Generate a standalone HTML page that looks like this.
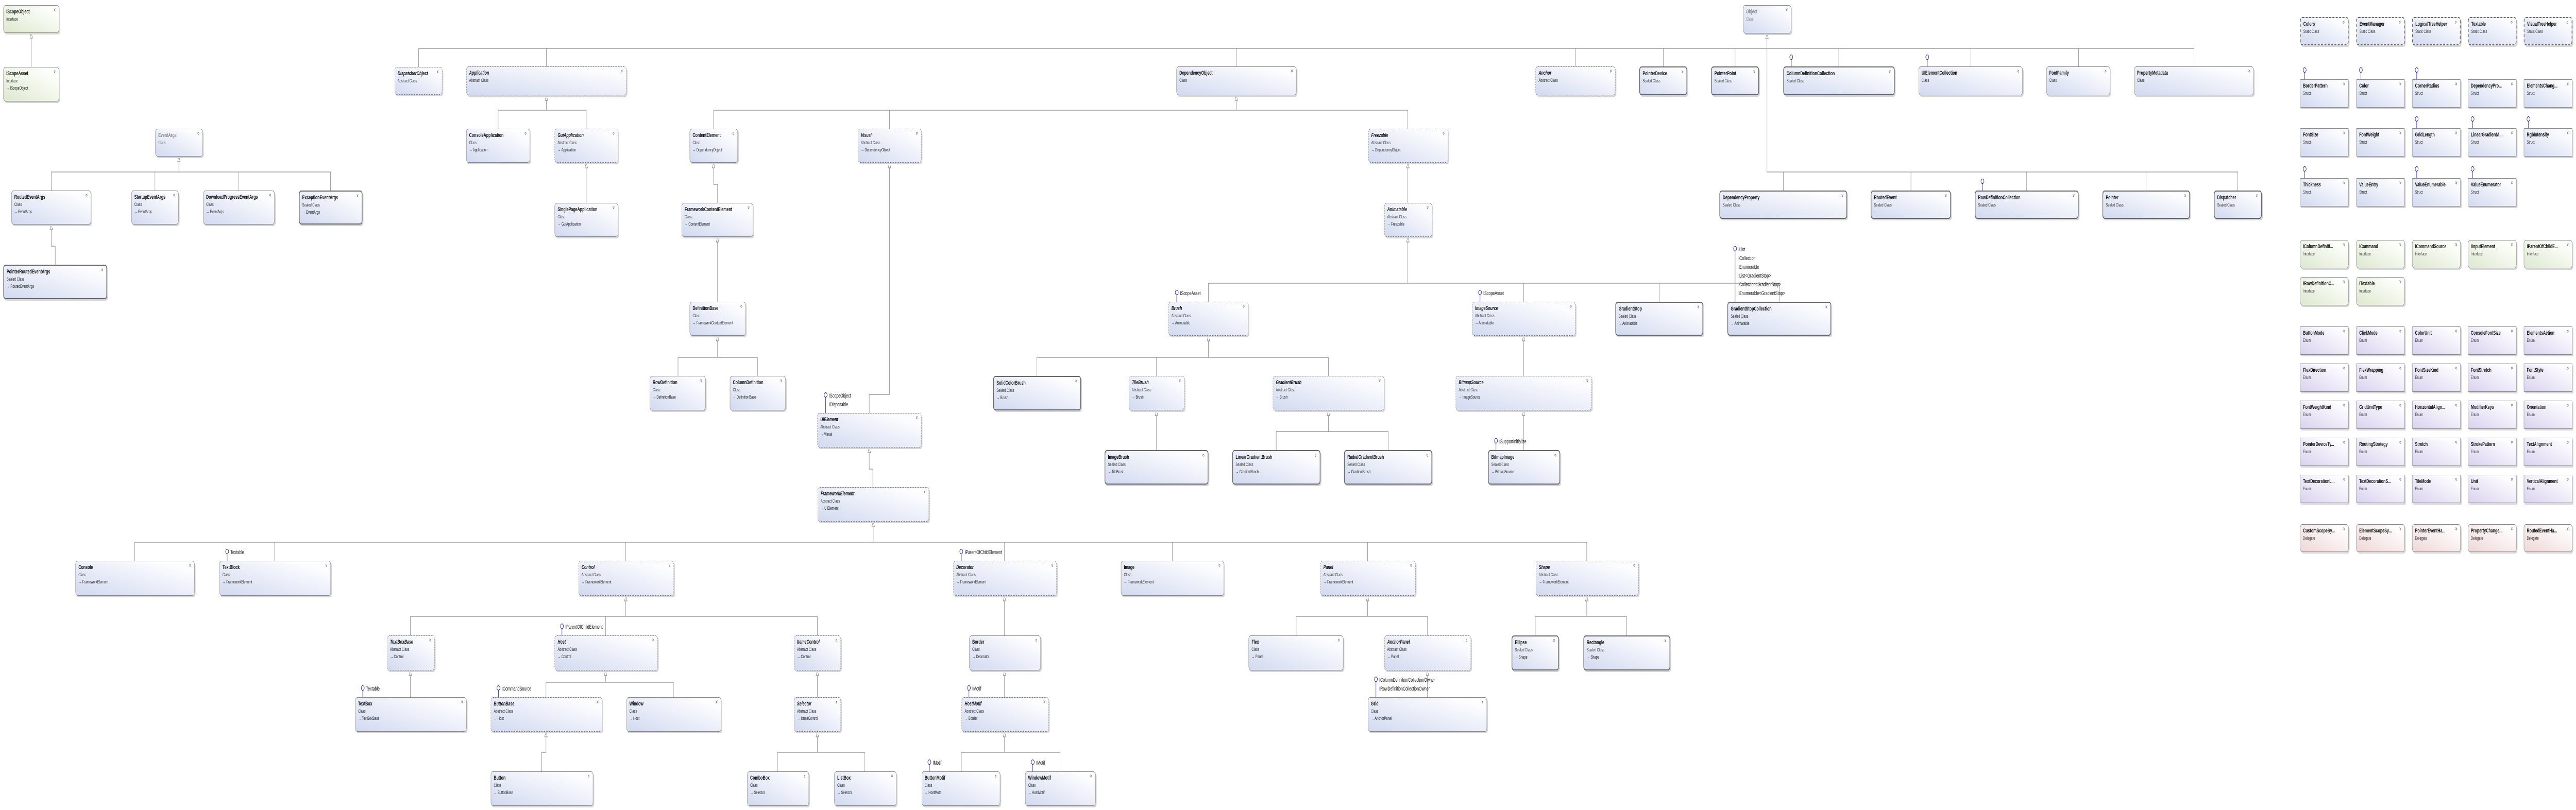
<!DOCTYPE html>
<html><head><meta charset="utf-8"><style>
html,body{margin:0;padding:0;overflow:hidden}
#pg{width:7747px;height:1573px;background:#fff;position:absolute;left:0;top:0;overflow:hidden;font-family:"Liberation Sans",sans-serif;transform-origin:0 0}
.b{position:absolute;box-sizing:border-box;border:1px solid #8a8a8a;border-radius:7px;background:linear-gradient(to top right,#d2daf0,#fdfdff 85%);box-shadow:3px 3px 0 #d6d6d6;padding:5px 8px;overflow:hidden;white-space:nowrap}
.b b{display:block;font-size:11px;font-weight:bold;color:#111;line-height:15px}
.b i{display:block;font-style:normal;font-size:9px;color:#333;line-height:13px}
.b u{display:block;text-decoration:none;font-size:9px;color:#222;line-height:14px}
.b::after{content:"»";position:absolute;right:8px;top:1px;transform:rotate(90deg);font-size:12px;color:#555}
.a{border:1px dashed #777}.a b{font-style:italic}
.s{border:2px solid #666}
.st{border:2px dashed #666}
.sr{border-radius:2px}
.in{background:linear-gradient(to top right,#dde8cf,#fdfffb 85%)}
.en{background:linear-gradient(to top right,#d9d3ef,#fdfcff 85%);border-radius:2px}
.d{background:linear-gradient(to top right,#efd7d7,#fffdfd 85%)}
.g b,.g i{color:#888}
svg{position:absolute;left:0;top:0}
#rg{position:absolute;left:-4px;top:0;width:0;height:0}
</style></head><body>
<div id="pg">
<svg width="7747" height="1573">
<path fill="none" stroke="#8a8a8a" stroke-width="1.2" d="M94 64V130
M538 304V334 M154 334H994 M154 334V370 M466 334V370 M718 334V370 M994 334V370
M154 436V478H166V514
M1259 94H6598 M5314 65V334 M1259 94V130 M1643 94V129 M3718 94V129 M4738 94V129 M5002 94V129 M5218 94V129 M5530 94V129 M5927 94V129 M6251 94V129 M6598 94V129
M5314 334H6730 M5363 334V370 M5747 334V370 M6095 334V370 M6454 334V370 M6730 334V370
M1643 185V214 M1498 214H1763 M1498 214V250 M1763 214V250
M1763 316V394
M3718 185V214 M2146 214H4234 M2146 214V250 M2675 214V250 M4234 214V250
M2146 316V358H2158V394
M2158 460V586
M2158 652V694 M2039 694H2278 M2039 694V730 M2278 694V730
M2675 316V766H2614V802
M2614 869V911H2625V946
M2626 1013V1053 M405 1053H4772 M405 1053V1089 M826 1053V1089 M1882 1053V1089 M3021 1053V1089 M3526 1053V1089 M4113 1053V1089 M4772 1053V1089
M1882 1157V1197 M1234 1197H2458 M1234 1197V1234 M1821 1197V1234 M2458 1197V1234
M1234 1302V1354
M1821 1302V1325 M1642 1325H2025 M1642 1325V1354 M2025 1325V1354
M1642 1421V1461H1629V1498
M2458 1302V1354
M2458 1421V1461 M2338 1461H2601 M2338 1461V1498 M2601 1461V1498
M3021 1157V1234 M3021 1302V1354
M3021 1421V1461 M2891 1461H3188 M2891 1461V1498 M3188 1461V1498
M4113 1157V1197 M3898 1197H4293 M3898 1197V1234 M4293 1197V1234
M4293 1302V1354
M4772 1157V1197 M4617 1197H4892 M4617 1197V1234 M4892 1197V1234
M4234 316V394
M4234 460V550 M3634 550H5351 M3634 550V586 M4582 550V586 M4990 550V586 M5351 550V586
M3634 652V694 M3118 694H3995 M3118 694V730 M3478 694V730 M3995 694V730
M3478 797V874
M3995 797V838 M3838 838H4175 M3838 838V874 M4175 838V874
M4582 652V730 M4582 797V874"/>
<g fill="#fff" stroke="#777" stroke-width="1">
<polygon points="94,64 90,74 98,74"/><polygon points="538,304 534,314 542,314"/><polygon points="154,436 150,446 158,446"/><polygon points="5314,65 5310,75 5318,75"/><polygon points="1643,185 1639,195 1647,195"/><polygon points="1763,316 1759,326 1767,326"/><polygon points="3718,185 3714,195 3722,195"/><polygon points="2146,316 2142,326 2150,326"/><polygon points="2158,460 2154,470 2162,470"/><polygon points="2158,652 2154,662 2162,662"/><polygon points="2675,316 2671,326 2679,326"/><polygon points="2614,869 2610,879 2618,879"/><polygon points="2626,1013 2622,1023 2630,1023"/><polygon points="1882,1157 1878,1167 1886,1167"/><polygon points="1234,1302 1230,1312 1238,1312"/><polygon points="1821,1302 1817,1312 1825,1312"/><polygon points="1642,1421 1638,1431 1646,1431"/><polygon points="2458,1302 2454,1312 2462,1312"/><polygon points="2458,1421 2454,1431 2462,1431"/><polygon points="3021,1157 3017,1167 3025,1167"/><polygon points="3021,1302 3017,1312 3025,1312"/><polygon points="3021,1421 3017,1431 3025,1431"/><polygon points="4113,1157 4109,1167 4117,1167"/><polygon points="4293,1302 4289,1312 4297,1312"/><polygon points="4772,1157 4768,1167 4776,1167"/><polygon points="4234,316 4230,326 4238,326"/><polygon points="4234,460 4230,470 4238,470"/><polygon points="3634,652 3630,662 3638,662"/><polygon points="3478,797 3474,807 3482,807"/><polygon points="3995,797 3991,807 3999,807"/><polygon points="4582,652 4578,662 4586,662"/><polygon points="4582,797 4578,807 4586,807"/>
</g>
<g stroke="#2b2bbd" stroke-width="1.3" fill="#fff">
<path d="M2483 802V771 M3539 586V572 M4451 586V572 M4499 874V860 M5218 586V487 M5387 129V115 M5796 129V115 M5962 370V356 M683 1089V1075 M1690 1234V1220 M1091 1354V1340 M1499 1354V1340 M2891 1089V1075 M2914 1354V1340 M4138 1354V1323 M2795 1498V1484 M3106 1498V1484 M6931 154V140 M7100 154V140 M7268 154V140 M7268 249V235 M7436 249V235 M7604 249V235 M6931 346V332 M7268 346V332 M7436 346V332"/>
<circle cx="2483" cy="767" r="4.5"/><circle cx="3539" cy="568" r="4.5"/><circle cx="4451" cy="568" r="4.5"/><circle cx="4499" cy="856" r="4.5"/><circle cx="5218" cy="483" r="4.5"/><circle cx="5387" cy="111" r="4.5"/><circle cx="5796" cy="111" r="4.5"/><circle cx="5962" cy="352" r="4.5"/><circle cx="683" cy="1071" r="4.5"/><circle cx="1690" cy="1216" r="4.5"/><circle cx="1091" cy="1336" r="4.5"/><circle cx="1499" cy="1336" r="4.5"/><circle cx="2891" cy="1071" r="4.5"/><circle cx="2914" cy="1336" r="4.5"/><circle cx="4138" cy="1319" r="4.5"/><circle cx="2795" cy="1480" r="4.5"/><circle cx="3106" cy="1480" r="4.5"/><circle cx="6931" cy="136" r="4.5"/><circle cx="7100" cy="136" r="4.5"/><circle cx="7268" cy="136" r="4.5"/><circle cx="7268" cy="231" r="4.5"/><circle cx="7436" cy="231" r="4.5"/><circle cx="7604" cy="231" r="4.5"/><circle cx="6931" cy="328" r="4.5"/><circle cx="7268" cy="328" r="4.5"/><circle cx="7436" cy="328" r="4.5"/>
</g>
<g font-family="Liberation Sans, sans-serif" font-size="11" fill="#111">
<text x="2493" y="772">IScopeObject</text><text x="2493" y="789">IDisposable</text>
<text x="3549" y="573">IScopeAsset</text><text x="4461" y="573">IScopeAsset</text>
<text x="4509" y="861">ISupportInitialize</text>
<text x="5228" y="488">IList</text><text x="5228" y="505">ICollection</text><text x="5228" y="522">IEnumerable</text><text x="5228" y="539">IList&lt;GradientStop&gt;</text><text x="5228" y="556">ICollection&lt;GradientStop&gt;</text><text x="5228" y="573">IEnumerable&lt;GradientStop&gt;</text>
<text x="693" y="1076">Textable</text><text x="1700" y="1221">IParentOfChildElement</text><text x="1101" y="1341">Textable</text><text x="1509" y="1341">ICommandSource</text>
<text x="2901" y="1076">IParentOfChildElement</text><text x="2924" y="1341">IMotif</text>
<text x="4148" y="1324">IColumnDefinitionCollectionOwner</text><text x="4148" y="1341">IRowDefinitionCollectionOwner</text>
<text x="2805" y="1485">IMotif</text><text x="3116" y="1485">IMotif</text>
</g>
</svg>

<div class="b in" style="left:10px;top:10px;width:168px;height:54px"><b>IScopeObject</b><i>Interface</i></div>
<div class="b in" style="left:10px;top:130px;width:168px;height:67px"><b>IScopeAsset</b><i>Interface</i><u>→ IScopeObject</u></div>
<div class="b a" style="left:1187px;top:130px;width:143px;height:54px"><b>DispatcherObject</b><i>Abstract Class</i></div>
<div class="b g" style="left:467px;top:250px;width:143px;height:54px"><b>EventArgs</b><i>Class</i></div>
<div class="b" style="left:34px;top:370px;width:240px;height:66px"><b>RoutedEventArgs</b><i>Class</i><u>→ EventArgs</u></div>
<div class="b" style="left:395px;top:370px;width:142px;height:66px"><b>StartupEventArgs</b><i>Class</i><u>→ EventArgs</u></div>
<div class="b" style="left:611px;top:370px;width:215px;height:66px"><b>DownloadProgressEventArgs</b><i>Class</i><u>→ EventArgs</u></div>
<div class="b s" style="left:899px;top:370px;width:191px;height:66px"><b>ExceptionEventArgs</b><i>Sealed Class</i><u>→ EventArgs</u></div>
<div class="b s" style="left:10px;top:514px;width:312px;height:67px"><b>PointerRoutedEventArgs</b><i>Sealed Class</i><u>→ RoutedEventArgs</u></div>
<div class="b a" style="left:1402px;top:129px;width:482px;height:56px"><b>Application</b><i>Abstract Class</i></div>
<div class="b" style="left:1402px;top:250px;width:192px;height:66px"><b>ConsoleApplication</b><i>Class</i><u>→ Application</u></div>
<div class="b a" style="left:1668px;top:250px;width:191px;height:66px"><b>GuiApplication</b><i>Abstract Class</i><u>→ Application</u></div>
<div class="b" style="left:1668px;top:394px;width:191px;height:66px"><b>SinglePageApplication</b><i>Class</i><u>→ GuiApplication</u></div>
<div class="b" style="left:3538px;top:129px;width:361px;height:56px"><b>DependencyObject</b><i>Class</i></div>
<div class="b" style="left:2074px;top:250px;width:145px;height:66px"><b>ContentElement</b><i>Class</i><u>→ DependencyObject</u></div>
<div class="b" style="left:2050px;top:394px;width:215px;height:66px"><b>FrameworkContentElement</b><i>Class</i><u>→ ContentElement</u></div>
<div class="b" style="left:2074px;top:586px;width:169px;height:66px"><b>DefinitionBase</b><i>Class</i><u>→ FrameworkContentElement</u></div>
<div class="b" style="left:1954px;top:730px;width:168px;height:67px"><b>RowDefinition</b><i>Class</i><u>→ DefinitionBase</u></div>
<div class="b" style="left:2195px;top:730px;width:168px;height:67px"><b>ColumnDefinition</b><i>Class</i><u>→ DefinitionBase</u></div>
<div class="b a" style="left:2580px;top:250px;width:191px;height:66px"><b>Visual</b><i>Abstract Class</i><u>→ DependencyObject</u></div>
<div class="b a" style="left:2458px;top:802px;width:313px;height:67px"><b>UIElement</b><i>Abstract Class</i><u>→ Visual</u></div>
<div class="b a" style="left:2459px;top:946px;width:335px;height:67px"><b>FrameworkElement</b><i>Abstract Class</i><u>→ UIElement</u></div>
<div class="b a" style="left:4618px;top:129px;width:240px;height:56px"><b>Anchor</b><i>Abstract Class</i></div>
<div class="b a" style="left:4115px;top:250px;width:240px;height:66px"><b>Freezable</b><i>Abstract Class</i><u>→ DependencyObject</u></div>
<div class="b a" style="left:4163px;top:394px;width:144px;height:66px"><b>Animatable</b><i>Abstract Class</i><u>→ Freezable</u></div>
<div class="b a" style="left:3514px;top:586px;width:240px;height:66px"><b>Brush</b><i>Abstract Class</i><u>→ Animatable</u></div>
<div class="b a" style="left:4427px;top:586px;width:311px;height:66px"><b>ImageSource</b><i>Abstract Class</i><u>→ Animatable</u></div>
<div class="b s" style="left:2987px;top:730px;width:264px;height:67px"><b>SolidColorBrush</b><i>Sealed Class</i><u>→ Brush</u></div>
<div class="b a" style="left:3395px;top:730px;width:167px;height:67px"><b>TileBrush</b><i>Abstract Class</i><u>→ Brush</u></div>
<div class="b a" style="left:3828px;top:730px;width:335px;height:67px"><b>GradientBrush</b><i>Abstract Class</i><u>→ Brush</u></div>
<div class="b a" style="left:4378px;top:730px;width:409px;height:67px"><b>BitmapSource</b><i>Abstract Class</i><u>→ ImageSource</u></div>
<div class="b s" style="left:3322px;top:874px;width:312px;height:67px"><b>ImageBrush</b><i>Sealed Class</i><u>→ TileBrush</u></div>
<div class="b s" style="left:3706px;top:874px;width:265px;height:67px"><b>LinearGradientBrush</b><i>Sealed Class</i><u>→ GradientBrush</u></div>
<div class="b s" style="left:4042px;top:874px;width:265px;height:67px"><b>RadialGradientBrush</b><i>Sealed Class</i><u>→ GradientBrush</u></div>
<div class="b s" style="left:4475px;top:874px;width:217px;height:67px"><b>BitmapImage</b><i>Sealed Class</i><u>→ BitmapSource</u></div>
<div class="b s" style="left:4858px;top:586px;width:264px;height:66px"><b>GradientStop</b><i>Sealed Class</i><u>→ Animatable</u></div>
<div class="b s" style="left:5195px;top:586px;width:312px;height:66px"><b>GradientStopCollection</b><i>Sealed Class</i><u>→ Animatable</u></div>
<div class="b g" style="left:5242px;top:10px;width:145px;height:55px"><b>Object</b><i>Class</i></div>
<div class="b s" style="left:4930px;top:129px;width:144px;height:56px"><b>PointerDevice</b><i>Sealed Class</i></div>
<div class="b s" style="left:5146px;top:129px;width:144px;height:56px"><b>PointerPoint</b><i>Sealed Class</i></div>
<div class="b s" style="left:5363px;top:129px;width:335px;height:56px"><b>ColumnDefinitionCollection</b><i>Sealed Class</i></div>
<div class="b" style="left:5770px;top:129px;width:313px;height:56px"><b>UIElementCollection</b><i>Class</i></div>
<div class="b" style="left:6154px;top:129px;width:192px;height:56px"><b>FontFamily</b><i>Class</i></div>
<div class="b" style="left:6418px;top:129px;width:360px;height:56px"><b>PropertyMetadata</b><i>Class</i></div>
<div class="b s" style="left:5171px;top:370px;width:384px;height:55px"><b>DependencyProperty</b><i>Sealed Class</i></div>
<div class="b s" style="left:5626px;top:370px;width:241px;height:55px"><b>RoutedEvent</b><i>Sealed Class</i></div>
<div class="b s" style="left:5939px;top:370px;width:312px;height:55px"><b>RowDefinitionCollection</b><i>Sealed Class</i></div>
<div class="b s" style="left:6323px;top:370px;width:263px;height:55px"><b>Pointer</b><i>Sealed Class</i></div>
<div class="b s" style="left:6658px;top:370px;width:144px;height:55px"><b>Dispatcher</b><i>Sealed Class</i></div>
<div class="b" style="left:227px;top:1089px;width:358px;height:68px"><b>Console</b><i>Class</i><u>→ FrameworkElement</u></div>
<div class="b" style="left:660px;top:1089px;width:335px;height:68px"><b>TextBlock</b><i>Class</i><u>→ FrameworkElement</u></div>
<div class="b a" style="left:1740px;top:1089px;width:287px;height:68px"><b>Control</b><i>Abstract Class</i><u>→ FrameworkElement</u></div>
<div class="b a" style="left:2867px;top:1089px;width:311px;height:68px"><b>Decorator</b><i>Abstract Class</i><u>→ FrameworkElement</u></div>
<div class="b" style="left:3371px;top:1089px;width:310px;height:68px"><b>Image</b><i>Class</i><u>→ FrameworkElement</u></div>
<div class="b a" style="left:3971px;top:1089px;width:286px;height:68px"><b>Panel</b><i>Abstract Class</i><u>→ FrameworkElement</u></div>
<div class="b a" style="left:4619px;top:1089px;width:309px;height:68px"><b>Shape</b><i>Abstract Class</i><u>→ FrameworkElement</u></div>
<div class="b a" style="left:1164px;top:1234px;width:143px;height:68px"><b>TextBoxBase</b><i>Abstract Class</i><u>→ Control</u></div>
<div class="b a" style="left:1668px;top:1234px;width:310px;height:68px"><b>Host</b><i>Abstract Class</i><u>→ Control</u></div>
<div class="b a" style="left:2388px;top:1234px;width:141px;height:68px"><b>ItemsControl</b><i>Abstract Class</i><u>→ Control</u></div>
<div class="b" style="left:2915px;top:1234px;width:215px;height:68px"><b>Border</b><i>Class</i><u>→ Decorator</u></div>
<div class="b" style="left:3755px;top:1234px;width:285px;height:68px"><b>Flex</b><i>Class</i><u>→ Panel</u></div>
<div class="b a" style="left:4163px;top:1234px;width:261px;height:68px"><b>AnchorPanel</b><i>Abstract Class</i><u>→ Panel</u></div>
<div class="b s" style="left:4546px;top:1234px;width:142px;height:68px"><b>Ellipse</b><i>Sealed Class</i><u>→ Shape</u></div>
<div class="b s" style="left:4762px;top:1234px;width:261px;height:68px"><b>Rectangle</b><i>Sealed Class</i><u>→ Shape</u></div>
<div class="b" style="left:1068px;top:1354px;width:335px;height:67px"><b>TextBox</b><i>Class</i><u>→ TextBoxBase</u></div>
<div class="b a" style="left:1476px;top:1354px;width:335px;height:67px"><b>ButtonBase</b><i>Abstract Class</i><u>→ Host</u></div>
<div class="b" style="left:1884px;top:1354px;width:285px;height:67px"><b>Window</b><i>Class</i><u>→ Host</u></div>
<div class="b a" style="left:2388px;top:1354px;width:141px;height:67px"><b>Selector</b><i>Abstract Class</i><u>→ ItemsControl</u></div>
<div class="b a" style="left:2892px;top:1354px;width:262px;height:67px"><b>HostMotif</b><i>Abstract Class</i><u>→ Border</u></div>
<div class="b" style="left:4114px;top:1354px;width:358px;height:67px"><b>Grid</b><i>Class</i><u>→ AnchorPanel</u></div>
<div class="b" style="left:1476px;top:1498px;width:308px;height:67px"><b>Button</b><i>Class</i><u>→ ButtonBase</u></div>
<div class="b" style="left:2247px;top:1498px;width:186px;height:67px"><b>ComboBox</b><i>Class</i><u>→ Selector</u></div>
<div class="b" style="left:2509px;top:1498px;width:187px;height:67px"><b>ListBox</b><i>Class</i><u>→ Selector</u></div>
<div class="b" style="left:2772px;top:1498px;width:236px;height:67px"><b>ButtonMotif</b><i>Class</i><u>→ HostMotif</u></div>
<div class="b" style="left:3083px;top:1498px;width:212px;height:67px"><b>WindowMotif</b><i>Class</i><u>→ HostMotif</u></div>

<div id="rg">
<div class="b st" style="left:6921px;top:33px;width:146px;height:55px"><b>Colors</b><i>Static Class</i></div>
<div class="b st" style="left:7090px;top:33px;width:146px;height:55px"><b>EventManager</b><i>Static Class</i></div>
<div class="b st" style="left:7258px;top:33px;width:146px;height:55px"><b>LogicalTreeHelper</b><i>Static Class</i></div>
<div class="b st" style="left:7426px;top:33px;width:146px;height:55px"><b>Textable</b><i>Static Class</i></div>
<div class="b st" style="left:7594px;top:33px;width:146px;height:55px"><b>VisualTreeHelper</b><i>Static Class</i></div>
<div class="b sr" style="left:6921px;top:154px;width:146px;height:55px"><b>BorderPattern</b><i>Struct</i></div>
<div class="b sr" style="left:7090px;top:154px;width:146px;height:55px"><b>Color</b><i>Struct</i></div>
<div class="b sr" style="left:7258px;top:154px;width:146px;height:55px"><b>CornerRadius</b><i>Struct</i></div>
<div class="b sr" style="left:7426px;top:154px;width:146px;height:55px"><b>DependencyPro...</b><i>Struct</i></div>
<div class="b sr" style="left:7594px;top:154px;width:146px;height:55px"><b>ElementsChang...</b><i>Struct</i></div>
<div class="b sr" style="left:6921px;top:249px;width:146px;height:55px"><b>FontSize</b><i>Struct</i></div>
<div class="b sr" style="left:7090px;top:249px;width:146px;height:55px"><b>FontWeight</b><i>Struct</i></div>
<div class="b sr" style="left:7258px;top:249px;width:146px;height:55px"><b>GridLength</b><i>Struct</i></div>
<div class="b sr" style="left:7426px;top:249px;width:146px;height:55px"><b>LinearGradientA...</b><i>Struct</i></div>
<div class="b sr" style="left:7594px;top:249px;width:146px;height:55px"><b>RgbIntensity</b><i>Struct</i></div>
<div class="b sr" style="left:6921px;top:346px;width:146px;height:55px"><b>Thickness</b><i>Struct</i></div>
<div class="b sr" style="left:7090px;top:346px;width:146px;height:55px"><b>ValueEntry</b><i>Struct</i></div>
<div class="b sr" style="left:7258px;top:346px;width:146px;height:55px"><b>ValueEnumerable</b><i>Struct</i></div>
<div class="b sr" style="left:7426px;top:346px;width:146px;height:55px"><b>ValueEnumerator</b><i>Struct</i></div>
<div class="b in" style="left:6921px;top:466px;width:146px;height:55px"><b>IColumnDefiniti...</b><i>Interface</i></div>
<div class="b in" style="left:7090px;top:466px;width:146px;height:55px"><b>ICommand</b><i>Interface</i></div>
<div class="b in" style="left:7258px;top:466px;width:146px;height:55px"><b>ICommandSource</b><i>Interface</i></div>
<div class="b in" style="left:7426px;top:466px;width:146px;height:55px"><b>IInputElement</b><i>Interface</i></div>
<div class="b in" style="left:7594px;top:466px;width:146px;height:55px"><b>IParentOfChildE...</b><i>Interface</i></div>
<div class="b in" style="left:6921px;top:538px;width:146px;height:55px"><b>IRowDefinitionC...</b><i>Interface</i></div>
<div class="b in" style="left:7090px;top:538px;width:146px;height:55px"><b>ITextable</b><i>Interface</i></div>
<div class="b en" style="left:6921px;top:634px;width:146px;height:55px"><b>ButtonMode</b><i>Enum</i></div>
<div class="b en" style="left:7090px;top:634px;width:146px;height:55px"><b>ClickMode</b><i>Enum</i></div>
<div class="b en" style="left:7258px;top:634px;width:146px;height:55px"><b>ColorUnit</b><i>Enum</i></div>
<div class="b en" style="left:7426px;top:634px;width:146px;height:55px"><b>ConsoleFontSize</b><i>Enum</i></div>
<div class="b en" style="left:7594px;top:634px;width:146px;height:55px"><b>ElementsAction</b><i>Enum</i></div>
<div class="b en" style="left:6921px;top:706px;width:146px;height:55px"><b>FlexDirection</b><i>Enum</i></div>
<div class="b en" style="left:7090px;top:706px;width:146px;height:55px"><b>FlexWrapping</b><i>Enum</i></div>
<div class="b en" style="left:7258px;top:706px;width:146px;height:55px"><b>FontSizeKind</b><i>Enum</i></div>
<div class="b en" style="left:7426px;top:706px;width:146px;height:55px"><b>FontStretch</b><i>Enum</i></div>
<div class="b en" style="left:7594px;top:706px;width:146px;height:55px"><b>FontStyle</b><i>Enum</i></div>
<div class="b en" style="left:6921px;top:778px;width:146px;height:55px"><b>FontWeightKind</b><i>Enum</i></div>
<div class="b en" style="left:7090px;top:778px;width:146px;height:55px"><b>GridUnitType</b><i>Enum</i></div>
<div class="b en" style="left:7258px;top:778px;width:146px;height:55px"><b>HorizontalAlign...</b><i>Enum</i></div>
<div class="b en" style="left:7426px;top:778px;width:146px;height:55px"><b>ModifierKeys</b><i>Enum</i></div>
<div class="b en" style="left:7594px;top:778px;width:146px;height:55px"><b>Orientation</b><i>Enum</i></div>
<div class="b en" style="left:6921px;top:850px;width:146px;height:55px"><b>PointerDeviceTy...</b><i>Enum</i></div>
<div class="b en" style="left:7090px;top:850px;width:146px;height:55px"><b>RoutingStrategy</b><i>Enum</i></div>
<div class="b en" style="left:7258px;top:850px;width:146px;height:55px"><b>Stretch</b><i>Enum</i></div>
<div class="b en" style="left:7426px;top:850px;width:146px;height:55px"><b>StrokePattern</b><i>Enum</i></div>
<div class="b en" style="left:7594px;top:850px;width:146px;height:55px"><b>TextAlignment</b><i>Enum</i></div>
<div class="b en" style="left:6921px;top:922px;width:146px;height:55px"><b>TextDecorationL...</b><i>Enum</i></div>
<div class="b en" style="left:7090px;top:922px;width:146px;height:55px"><b>TextDecorationS...</b><i>Enum</i></div>
<div class="b en" style="left:7258px;top:922px;width:146px;height:55px"><b>TileMode</b><i>Enum</i></div>
<div class="b en" style="left:7426px;top:922px;width:146px;height:55px"><b>Unit</b><i>Enum</i></div>
<div class="b en" style="left:7594px;top:922px;width:146px;height:55px"><b>VerticalAlignment</b><i>Enum</i></div>
<div class="b d" style="left:6921px;top:1018px;width:146px;height:54px"><b>CustomScopeSy...</b><i>Delegate</i></div>
<div class="b d" style="left:7090px;top:1018px;width:146px;height:54px"><b>ElementScopeSy...</b><i>Delegate</i></div>
<div class="b d" style="left:7258px;top:1018px;width:146px;height:54px"><b>PointerEventHa...</b><i>Delegate</i></div>
<div class="b d" style="left:7426px;top:1018px;width:146px;height:54px"><b>PropertyChange...</b><i>Delegate</i></div>
<div class="b d" style="left:7594px;top:1018px;width:146px;height:54px"><b>RoutedEventHa...</b><i>Delegate</i></div>
</div>
</div>
<script>
(function(){
  var w=window.innerWidth||7747,h=window.innerHeight||1573;
  var sx=w<7747?w/7747:1, sy=h<1573?h/1573:1;
  if(sx!==1||sy!==1){document.getElementById('pg').style.transform='scale('+sx+','+sy+')';}
})();
</script>
</body></html>
